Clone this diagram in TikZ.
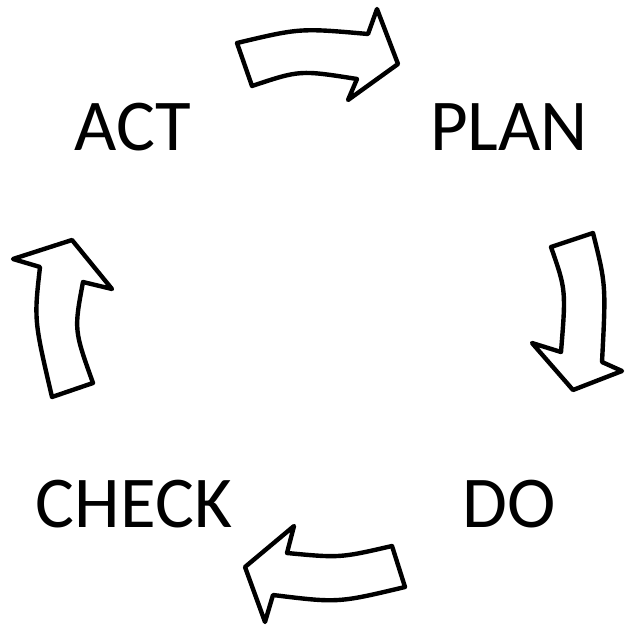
\documentclass[tikz,border=0pt]{standalone}
\usepackage{fontspec}
\setmainfont{Carlito}
\begin{document}
\begin{tikzpicture}[x=1pt,y=-1pt,
  blockarrow/.style={draw=black,fill=white,line width=4.4pt,line join=round},
  label/.style={font=\fontsize{73}{80}\selectfont,inner sep=0pt,anchor=base}]
\useasboundingbox (0,0) rectangle (624,626);
% labels
\node[label] (act) at (133,150) {ACT};
\node[label] (plan) at (509,150) {PLAN};
\node[label] (do) at (509,527) {DO};
\node[label] (check) at (134,527) {CHECK};
% top arrow (ACT -> PLAN)
\draw[blockarrow] (237,43) .. controls (300,28) .. (368,34) -- (377,9) -- (398,64)
  -- (348,100) -- (357,79) .. controls (300,70) .. (252,86) -- cycle;
% right arrow (PLAN -> DO)
\draw[blockarrow] (551,247) -- (593,233) .. controls (606,285) .. (602,362) -- (622,371)
  -- (573,390) -- (532,343) -- (561,352) .. controls (566,290) .. cycle;
% bottom arrow (DO -> CHECK)
\draw[blockarrow] (392,546) -- (405,587) .. controls (338,603) .. (273,595) -- (265,622)
  -- (245,567) -- (294,526) -- (287,553) .. controls (340,558) .. cycle;
% left arrow (CHECK -> ACT)
\draw[blockarrow] (52,397) -- (93,383) .. controls (74,330) .. (83,282) -- (112,289)
  -- (72,240) -- (13,259) -- (40,267) .. controls (34,320) .. cycle;
\end{tikzpicture}
\end{document}
